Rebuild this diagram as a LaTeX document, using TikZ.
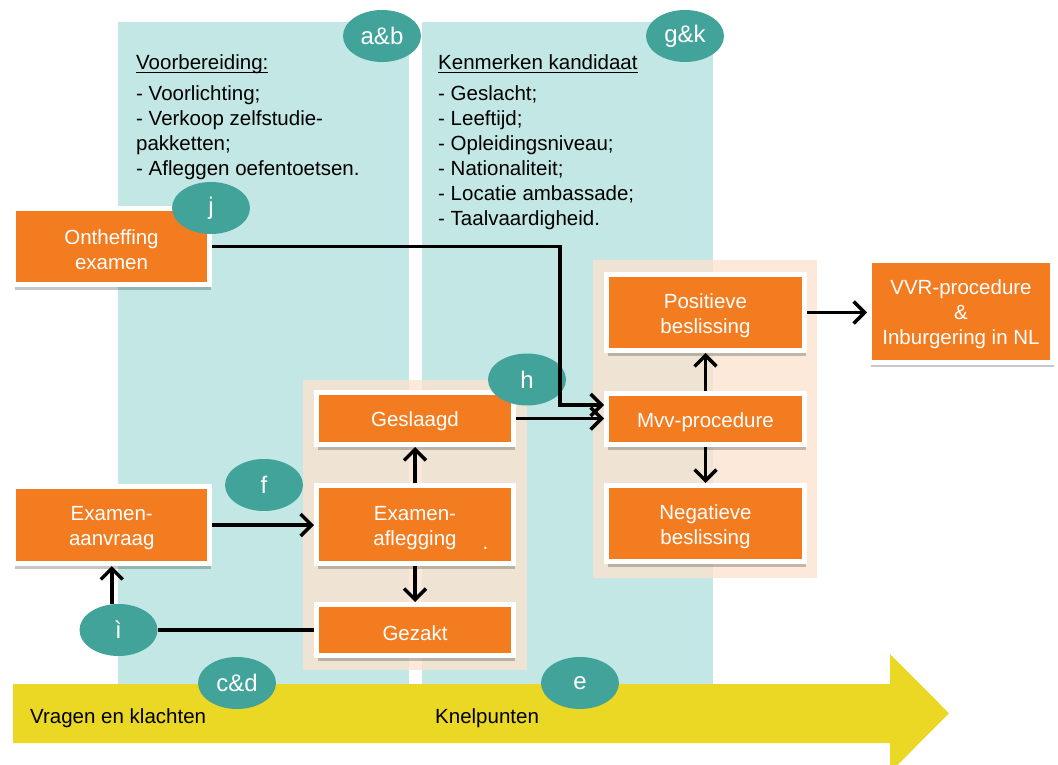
\documentclass[tikz,border=0pt]{standalone}
\usepackage{fontspec}
\setmainfont{Liberation Sans}
\usetikzlibrary{shapes.geometric,arrows.meta,shadows,calc}
\definecolor{panelteal}{HTML}{C3E7E4}
\definecolor{labteal}{HTML}{42A39A}
\definecolor{boxorange}{HTML}{F47C20}
\definecolor{arrowyellow}{HTML}{EAD824}
\definecolor{groupbeige}{HTML}{FBE3D1}
\newcommand\myul[1]{\setbox0\hbox{#1}\rlap{\rule[-3pt]{\wd0}{1.4pt}}\box0}
\newcommand\tstrut{\rule{0pt}{20.5pt}}
\begin{document}
\begin{tikzpicture}[x=1pt,y=-1pt,
  box/.style={draw=white, line width=5pt, fill=boxorange, text=white, align=center,
    font=\fontsize{20.5}{25}\selectfont, inner sep=0pt,
    drop shadow={shadow xshift=1pt, shadow yshift=-5pt, opacity=0.22, fill=black}},
  lab/.style={ellipse, fill=labteal, text=white, minimum width=78pt, minimum height=52pt,
    inner sep=0pt, font=\fontsize{24}{28}\selectfont},
  ptext/.style={inner sep=0pt, text=black, font=\fontsize{20.5}{25}\selectfont},
  arr/.style={line width=3.5pt, -{Straight Barb[length=11pt,width=22pt]}},
  plainline/.style={line width=3.5pt},
  group/.style={fill=groupbeige, fill opacity=0.8}]
\useasboundingbox (0,0) rectangle (1058,765);
% panels
\fill[panelteal] (118,22) rectangle (409,690);
\fill[panelteal] (422,22) rectangle (713,690);
% groups
\fill[group] (303,380) rectangle (527,670);
\fill[group] (593,260) rectangle (816.5,578);
% panel texts
\node[ptext, anchor=base west] (t1) at (136,70) {\myul{Voorbereiding:}};
\node[ptext, anchor=north west, align=left] (l1) at (136,85.5)
  {- Voorlichting;\\- Verkoop zelfstudie-\\pakketten;\\- Afleggen oefentoetsen.};
\node[ptext, anchor=base west] (t2) at (438,70) {\myul{Kenmerken kandidaat}};
\node[ptext, anchor=north west, align=left] (l2) at (438,85.5)
  {- Geslacht;\\- Leeftijd;\\- Opleidingsniveau;\\- Nationaliteit;\\- Locatie ambassade;\\- Taalvaardigheid.};
% yellow arrow
\fill[arrowyellow] (13,684) -- (890,684) -- (890,654) -- (949,713.3) -- (890,772.6) -- (890,743) -- (13,743) -- cycle;
\node[ptext, anchor=base west] (vk) at (30,723) {Vragen en klachten};
\node[ptext, anchor=base west] (kp) at (435,723) {Knelpunten};
% boxes
\node[box, minimum width=196pt, minimum height=76pt] (onth) at (111.5,246.5) {\tstrut Ontheffing\\examen};
\node[box, minimum width=196pt, minimum height=77pt] (aanv) at (111.75,525) {\tstrut Examen-\\aanvraag};
\node[box, minimum width=197pt, minimum height=52pt] (gesl) at (415,418.5) {\tstrut Geslaagd};
\node[box, minimum width=197pt, minimum height=78pt] (afl) at (415,524.5) {\tstrut Examen-\\aflegging};
\node[box, minimum width=197pt, minimum height=51pt] (gez) at (415,630) {\tstrut Gezakt};
\node[box, minimum width=198pt, minimum height=76pt] (pos) at (705.5,312.5) {\tstrut Positieve\\beslissing};
\node[box, minimum width=198pt, minimum height=51pt] (mvv) at (705.5,419) {\tstrut Mvv-procedure};
\node[box, minimum width=198pt, minimum height=76pt] (neg) at (705.5,523.5) {\tstrut Negatieve\\beslissing};
\node[box, minimum width=183pt, minimum height=102pt] (vvr) at (961,311.3) {\tstrut VVR-procedure\\\&\\Inburgering in NL};
\node[inner sep=0pt, text=white, font=\fontsize{20.5}{25}\selectfont, anchor=base] (afldot) at (485.5,549) {.};
% labels
\node[lab] (ab) at (382,36) {a\&b};
\node[lab] (gk) at (685,36) {g\&k};
\node[lab] (j) at (211,208) {j};
\node[lab] (h) at (527,379.5) {h};
\node[lab] (f) at (264,485) {f};
\node[lab] (i) at (118.5,630) {ì};
\node[lab] (cd) at (237,683) {c\&d};
\node[lab] (e) at (580,683) {e};
% connectors
\draw[arr] (onth.east) -| ([xshift=-44pt,yshift=14pt]mvv.west) -- ([yshift=14pt]mvv.west);
\draw[arr] (gesl.east) -- (gesl.east -| mvv.west);
\draw[arr] (aanv.east) -- (aanv.east -| afl.west);
\draw[arr] (afl.north) -- (gesl.south);
\draw[arr] (afl.south) -- (gez.north);
\draw[plainline] (gez.west) -- (i.east);
\draw[arr] (i.north -| aanv.south) -- (aanv.south);
\draw[arr] (mvv.north) -- (pos.south);
\draw[arr] (mvv.south) -- (neg.north);
\draw[arr] (pos.east) -- (pos.east -| vvr.west);
\end{tikzpicture}
\end{document}
